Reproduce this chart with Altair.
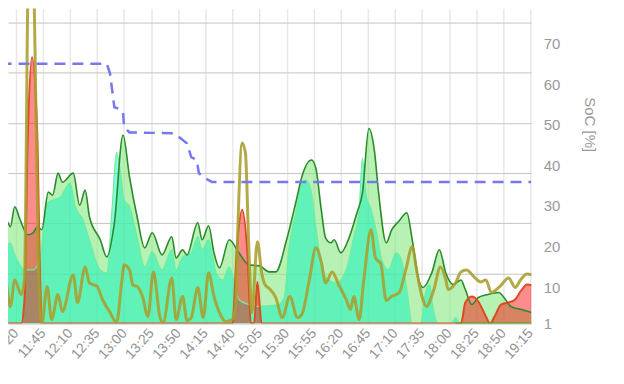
import altair as alt
import pandas as pd

# ---------------- data ----------------
tick_labels = ["11:20", "11:45", "12:10", "12:35", "13:00", "13:25", "13:50", "14:15",
               "14:40", "15:05", "15:30", "15:55", "16:20", "16:45", "17:10", "17:35",
               "18:00", "18:25", "18:50", "19:15"]
soc_ticks = [1, 10, 20, 30, 40, 50, 60, 70]
power_grid = [0, 1, 2, 3, 4, 5, 6]

# dark green series (kW)
A_times = ["11:06","11:12","11:15","11:19","11:24","11:31","11:36","11:40","11:44","11:50","11:54","11:59",
           "12:03","12:13","12:19","12:24","12:28","12:38","12:44","12:51","12:59","13:05","13:12","13:19",
           "13:26","13:35","13:44","13:48","13:54","13:58","14:08","14:12","14:18","14:23","14:28","14:37",
           "14:46","14:55","15:05","15:14","15:20","15:30","15:39","15:44","15:53","15:57","16:02","16:06",
           "16:11","16:14","16:20","16:28","16:35","16:40","16:46","16:51","16:55","17:02","17:07","17:14",
           "17:21","17:26","17:32","17:36","17:44","17:51","17:57","18:04","18:11","18:15","18:21","18:27",
           "18:36","18:46","18:52","18:57","19:07","19:16"]
A_vals = [1.97,2.03,1.93,2.33,2.07,1.77,1.81,1.93,1.87,2.62,2.56,3.0,
          2.82,3.0,2.36,2.66,2.13,1.67,1.33,2.01,3.76,2.92,2.13,1.51,
          1.81,1.37,1.73,1.31,1.47,1.37,2.01,1.67,1.95,1.41,1.11,1.67,
          1.41,1.17,1.15,1.03,1.03,1.67,2.46,2.92,3.26,3.10,2.27,1.71,
          1.61,1.67,1.41,1.73,2.21,2.60,3.89,3.46,2.60,1.61,1.87,2.05,
          2.21,1.67,0.87,0.72,1.01,1.47,1.01,0.78,0.87,0.68,0.38,0.52,
          0.58,0.62,0.48,0.34,0.28,0.22]

# aquamarine series (kW)
B_times = ["11:06","11:10","11:15","11:19","11:24","11:28","11:36","11:42","11:49","11:54","12:01","12:10",
           "12:15","12:22","12:28","12:38","12:44","12:49","12:53","12:56","13:00","13:05","13:12","13:19",
           "13:26","13:35","13:44","13:48","13:54","14:02","14:08","14:12","14:18","14:25","14:31","14:37",
           "14:46","14:55","15:05","15:14","15:23","15:28","15:32","15:39","15:43","15:48","15:53","15:57",
           "16:00","16:06","16:16","16:25","16:32","16:37","16:40","16:43","16:48","16:52","16:58","17:04",
           "17:11","17:16","17:21","17:26","17:34","17:37","17:42","17:45","17:50","18:02","18:06","18:10",
           "19:16"]
B_vals = [1.21,1.47,1.61,1.37,1.17,1.07,1.07,1.27,2.40,2.46,2.52,2.80,
          2.33,2.07,1.67,1.07,1.01,2.33,3.42,3.12,2.46,2.33,1.73,1.13,
          1.43,1.07,1.47,1.07,1.33,1.41,1.73,1.47,1.67,1.01,0.87,1.13,
          0.48,0.38,0.34,0.36,0.38,0.54,1.47,2.27,2.76,2.86,2.60,1.93,
          1.47,0.93,0.81,1.07,1.73,2.27,3.30,2.60,2.27,1.93,1.27,1.07,
          1.41,1.27,0.68,0.0,0.0,0.48,0.78,0.34,0.0,0.0,0.12,0.0,
          0.0]

# olive series (kW)
D_times = ["11:06","11:10","11:15","11:19","11:25","11:28","11:31","11:34","11:37","11:42","11:44","11:49",
           "11:53","11:59","12:03","12:13","12:17","12:24","12:28","12:35","12:40","12:47","12:53","12:58",
           "13:00","13:05","13:08","13:12","13:17","13:22","13:27","13:33","13:36","13:44","13:48","13:54",
           "13:58","14:02","14:08","14:13","14:18","14:23","14:28","14:34","14:40","14:43","14:45","14:49",
           "14:52","14:55","14:58","15:03","15:07","15:10","15:14","15:20","15:26","15:33","15:40","15:44",
           "15:51","15:57","16:02","16:06","16:12","16:18","16:25","16:29","16:32","16:37","16:41","16:48",
           "16:52","16:57","17:02","17:07","17:14","17:20","17:26","17:30","17:35","17:39","17:46","17:52",
           "17:57","17:59","18:06","18:11","18:16","18:24","18:29","18:34","18:39","18:47","18:55","19:01",
           "19:06","19:12","19:17"]
D_vals = [0.62,0.91,0.34,0.87,0.58,0.87,6.4,10.0,6.4,0.48,0.0,0.74,
          0.08,0.58,0.24,0.97,0.42,1.13,0.81,0.74,0.48,0.22,0.02,0.87,
          1.17,1.07,0.77,0.74,0.54,0.14,1.03,0.14,0.02,0.91,0.08,0.54,
          0.06,0.12,0.72,0.12,1.01,0.54,0.22,0.04,0.08,0.4,1.9,3.6,
          3.4,1.6,0.22,1.63,1.01,0.78,0.70,0.52,0.12,0.54,0.12,0.18,
          0.87,1.51,1.23,0.81,1.03,0.78,0.48,0.28,0.54,0.08,0.81,1.87,
          1.31,1.19,0.46,0.54,0.62,1.07,1.53,1.07,0.54,0.34,0.68,1.13,
          0.87,0.68,0.81,1.03,1.07,0.91,0.83,0.87,0.62,0.74,0.91,0.72,
          0.87,0.99,0.97]

# red series (kW)
E_times = ["11:06","11:25","11:28","11:31","11:35","11:40","11:42","11:45",
           "14:40","14:44","14:49","14:54","14:57","15:00","15:03","15:07",
           "18:11","18:15","18:21","18:27","18:34","18:38","18:42","18:48","18:55","19:01","19:06","19:12","19:17"]
E_vals = [0,0,0.48,3.66,5.31,3.66,1.27,0,
          0,1.47,2.27,1.33,0.02,0,0.83,0,
          0,0.42,0.54,0.44,0.14,0,0.14,0.38,0.42,0.48,0.64,0.78,0.76]

# green zero line at the end (kW)
G_times = ["18:06", "19:17"]
G_vals = [0.0, 0.0]

# state of charge (%)
S_times = ["11:06","12:44","12:47","12:51","12:54","12:59","13:00","13:05","13:45","13:51","13:58",
           "14:02","14:07","14:09","14:14","14:21","19:16"]
S_vals = [65.0,65.0,62.6,54.3,54.0,53.1,49.4,48.1,47.9,46.9,45.4,
          42.0,41.3,38.1,36.9,35.9,35.9]


def to_min(s):
    h, m = s.split(":")
    return int(h) * 60 + int(m)


def frame(times, vals):
    return pd.DataFrame({"t": [to_min(s) for s in times], "v": vals})


tick_vals = [to_min(s) for s in tick_labels]

FONT = "Liberation Sans"
x_scale = alt.Scale(domain=[672.8, 1155.9], nice=False, zero=False)
p_scale = alt.Scale(domain=[0, 6.28], nice=False, zero=False)
s_scale = alt.Scale(domain=[1, 78.6], nice=False, zero=False)

x_axis = alt.Axis(values=tick_vals,
                  labelExpr="floor(datum.value/60) + ':' + (datum.value % 60 < 10 ? '0' : '') + (datum.value % 60)",
                  labelAngle=-48, labelColor="#939393", labelFontSize=14, labelFont=FONT,
                  labelFlush=False, labelOverlap=False, labelPadding=7,
                  grid=True, gridColor="#e8e8e8", gridWidth=1.5,
                  domain=False, ticks=False, title=None)
p_axis = alt.Axis(values=power_grid, labels=False, ticks=False, domain=False,
                  grid=True, gridColor="#c4c4c4", gridWidth=1, title=None)
s_axis = alt.Axis(orient="right", values=soc_ticks, labelColor="#999999", labelFontSize=15,
                  labelFont=FONT, labelPadding=12, domain=False, ticks=False, grid=False,
                  title="SoC [%]", titleColor="#999999", titleFontSize=15, titleFont=FONT,
                  titleFontWeight="normal", titlePadding=22, titleY=116)


def X():
    return alt.X("t:Q", scale=x_scale, axis=x_axis)


def P():
    return alt.Y("v:Q", scale=p_scale, axis=p_axis)


dA, dB, dD, dE, dG = (frame(A_times, A_vals), frame(B_times, B_vals), frame(D_times, D_vals),
                      frame(E_times, E_vals), frame(G_times, G_vals))

area_A = alt.Chart(dA).mark_area(interpolate="monotone", fill="#88e882", fillOpacity=0.6,
                                 clip=True).encode(x=X(), y=P())
area_B = alt.Chart(dB).mark_area(interpolate="monotone", fill="#00f2c0", fillOpacity=0.47,
                                 clip=True).encode(x=X(), y=P())
area_E = alt.Chart(dE).mark_area(interpolate="monotone", fill="#ff0000", fillOpacity=0.45,
                                 clip=True).encode(x=X(), y=P())
line_B = alt.Chart(dB).mark_line(interpolate="monotone", color="#6cee9c", strokeWidth=1.2,
                                 clip=True).encode(x=X(), y=P())
line_A = alt.Chart(dA).mark_line(interpolate="monotone", color="#2a8a2a", strokeWidth=1.6,
                                 clip=True).encode(x=X(), y=P())
line_E = alt.Chart(dE).mark_line(interpolate="monotone", color="#dd4a22", strokeWidth=2,
                                 clip=True).encode(x=X(), y=P())
line_G = alt.Chart(dG).mark_line(color="#76982c", strokeWidth=2.5,
                                 clip=True).encode(x=X(), y=P())
line_D = alt.Chart(dD).mark_line(interpolate="monotone", color="#a89e2e", strokeWidth=3,
                                 opacity=0.88, strokeJoin="round", clip=True).encode(x=X(), y=P())

power = alt.layer(area_A, area_B, area_E, line_B, line_A, line_E, line_G, line_D)

soc = alt.Chart(frame(S_times, S_vals)).mark_line(
    color="#7777ee", strokeWidth=2.5, strokeDash=[11, 7], clip=True
).encode(x=X(), y=alt.Y("v:Q", scale=s_scale, axis=s_axis))

chart = alt.layer(power, soc).resolve_scale(y="independent").properties(
    width=525, height=316,
    autosize=alt.AutoSizeParams(type="none"),
    padding={"left": 0, "top": 0, "right": 85, "bottom": 56},
    background="white",
).configure_view(strokeWidth=0)

chart.save("out.html", embed_options={"renderer": "svg", "actions": False})
